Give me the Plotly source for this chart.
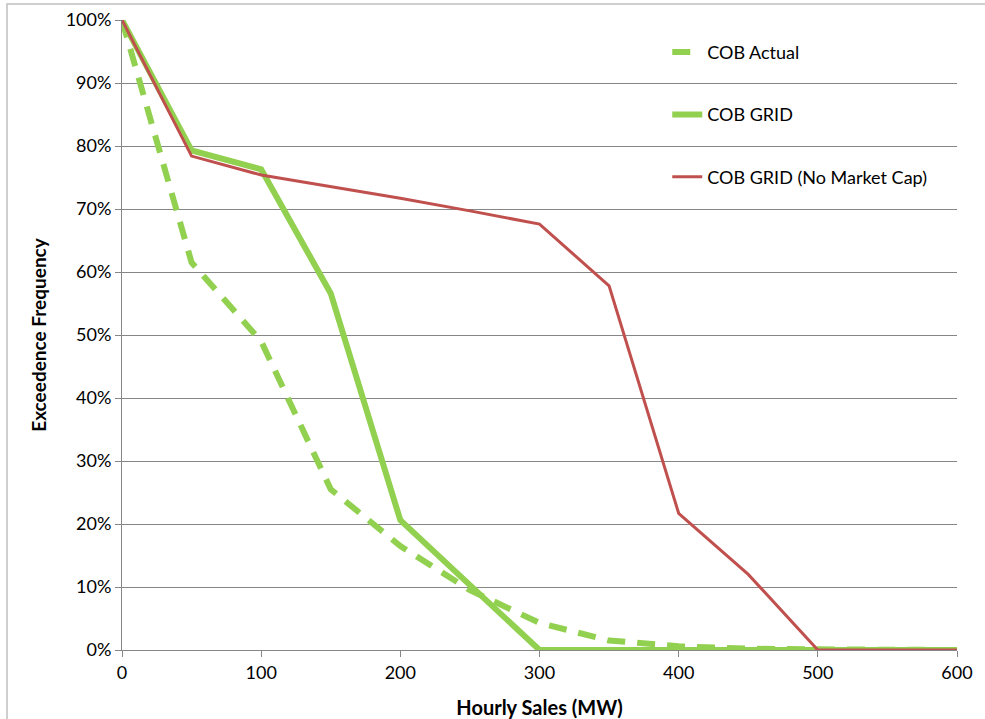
import plotly.graph_objects as go

sales_mw = [0, 50, 100, 150, 200, 250, 300, 350, 400, 450, 500, 550, 600]
cob_actual = [1.00, 0.615, 0.49, 0.255, 0.165, 0.095, 0.043, 0.015, 0.006, 0.002, 0.001, 0.0005, 0.0]
cob_grid = [1.00, 0.793, 0.763, 0.566, 0.206, 0.103, 0.0, 0.0, 0.0, 0.0, 0.0, 0.0, 0.0]
cob_grid_nocap = [1.00, 0.784, 0.754, 0.736, 0.717, 0.697, 0.676, 0.578, 0.217, 0.12, 0.0, 0.0, 0.0]

x_ticks = [0, 100, 200, 300, 400, 500, 600]
y_ticks = [0, 0.1, 0.2, 0.3, 0.4, 0.5, 0.6, 0.7, 0.8, 0.9, 1.0]

GREEN = "#92D050"
RED = "#C0504D"
FONT = "Lato"

W, H = 985, 719
ML, MR, MT, MB = 122, 28, 20, 69

fig = go.Figure()
fig.add_trace(go.Scatter(x=sales_mw, y=cob_actual, mode="lines", name="COB Actual",
                         line=dict(color=GREEN, width=6, dash="18px,12px"),
                         legendgroup="a"))
fig.add_trace(go.Scatter(x=sales_mw, y=cob_grid, mode="lines", name="COB GRID",
                         line=dict(color=GREEN, width=6), legendgroup="b"))
fig.add_trace(go.Scatter(x=sales_mw, y=cob_grid_nocap, mode="lines", name="COB GRID (No Market Cap)",
                         line=dict(color=RED, width=3), legendgroup="c"))

pw = W - ML - MR
ph = H - MT - MB
fig.add_shape(type="rect", xref="paper", yref="paper",
              x0=-(ML - 7) / pw, x1=(pw + MR + 10) / pw,
              y0=-(MB + 10) / ph, y1=1 + (MT - 4) / ph,
              line=dict(color="#BFBFBF", width=1.5), layer="below")

fig.update_layout(
    width=W, height=H,
    margin=dict(l=ML, r=MR, t=MT, b=MB),
    paper_bgcolor="white", plot_bgcolor="white",
    font=dict(family=FONT, size=18, color="black"),
    showlegend=True,
    legend=dict(x=0.653, y=0.978, xanchor="left", yanchor="top",
                bgcolor="rgba(0,0,0,0)", tracegroupgap=36,
                font=dict(family=FONT, size=18, color="black"),
                itemwidth=30),
    xaxis=dict(range=[0, 600], tickvals=x_ticks, showgrid=False,
               showline=True, linecolor="#868686", linewidth=1,
               ticks="outside", tickcolor="#868686", ticklen=6,
               zeroline=False, automargin=False,
               title=dict(text="<b>Hourly Sales (MW)</b>", font=dict(family=FONT, size=20), standoff=20),
               tickfont=dict(family=FONT, size=18)),
    yaxis=dict(range=[0, 1.0], tickvals=y_ticks, tickformat=".0%",
               showgrid=True, gridcolor="#868686", gridwidth=1,
               showline=True, linecolor="#868686", linewidth=1,
               ticks="outside", tickcolor="#868686", ticklen=6,
               zeroline=False, automargin=False,
               title=dict(text="<b>Exceedence Frequency</b>", font=dict(family=FONT, size=19), standoff=14),
               tickfont=dict(family=FONT, size=18)),
)

fig.write_html("out.html")
